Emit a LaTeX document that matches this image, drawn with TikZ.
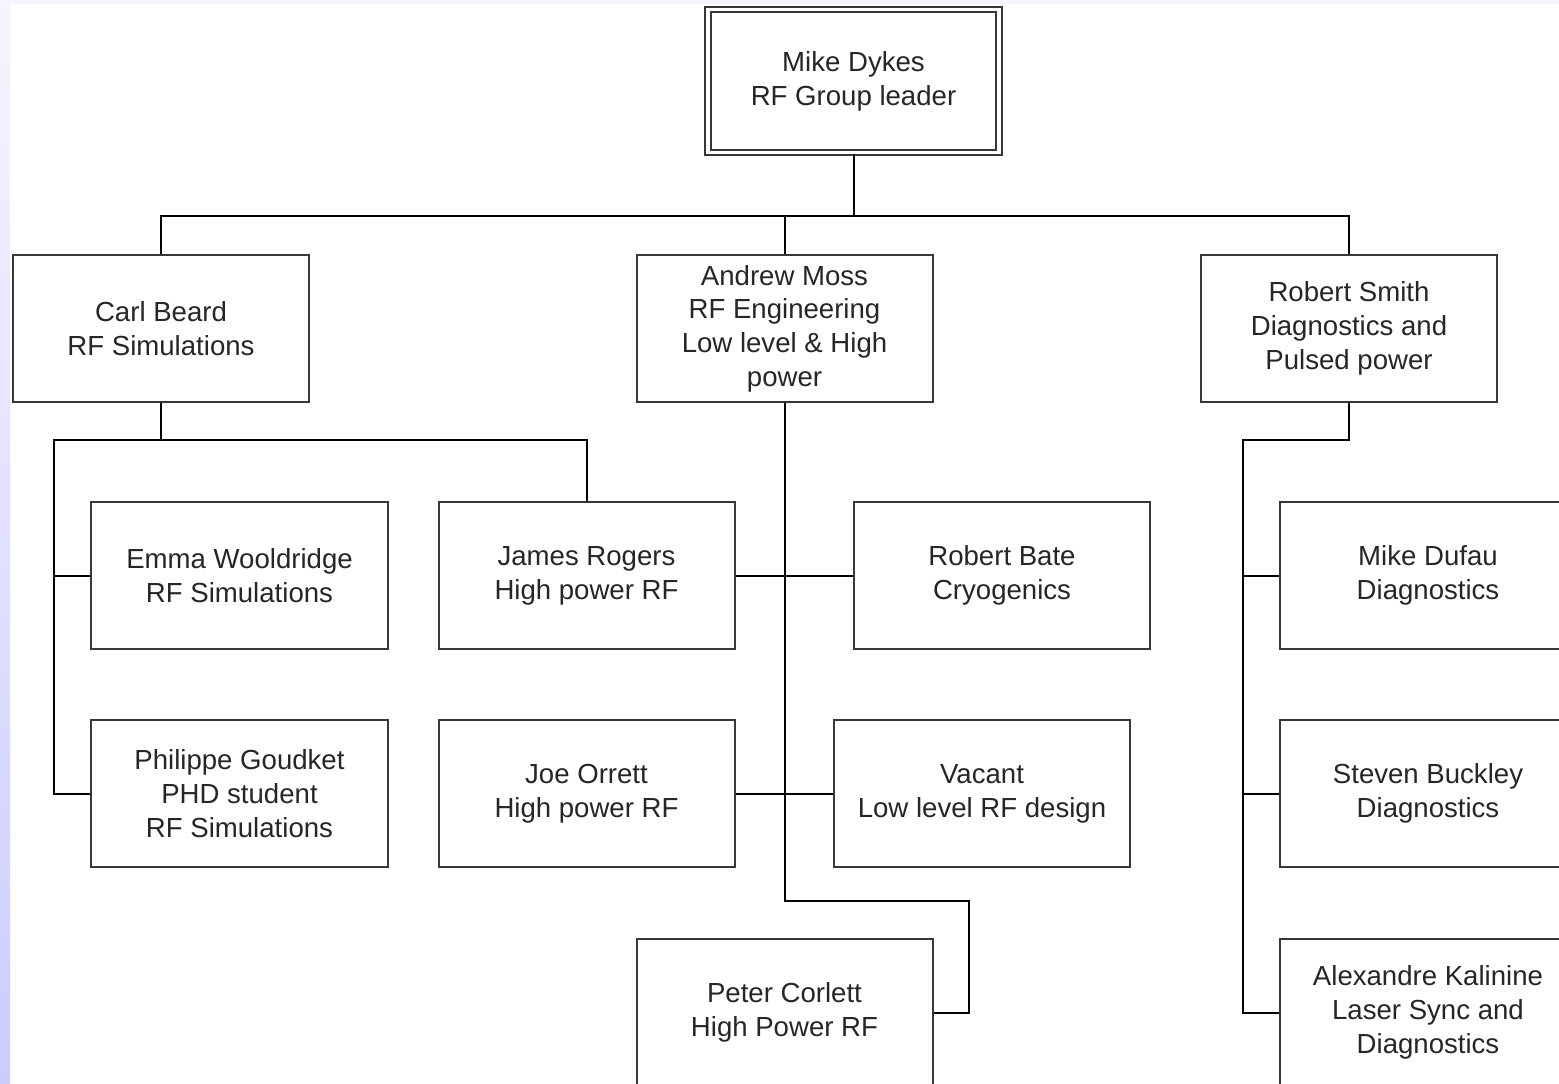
\documentclass[tikz,border=0pt]{standalone}
\usepackage{fontspec}
\setmainfont{Liberation Sans}
\definecolor{lavtop}{HTML}{F5F5FF}
\definecolor{lavbot}{HTML}{CCCCFF}
\definecolor{boxline}{HTML}{383838}
\definecolor{txtcol}{HTML}{262626}

\begin{document}
\begin{tikzpicture}[x=0.2mm,y=-0.2mm,
    person/.style={draw=boxline,line width=0.4mm,fill=white,
      minimum width=59.2mm,minimum height=29.4mm,align=center,
      text=txtcol,inner sep=1mm,
      font=\fontsize{15.7}{19.2}\selectfont},
    leader/.style={person,double,double distance=0.75mm,
      minimum width=58.2mm,minimum height=28.6mm},
    link/.style={line width=0.4mm,black}]
\clip (0,0) rectangle (1559,1084);
\fill[white] (0,0) rectangle (1559,1084);
\fill[lavtop] (0,0) rectangle (1559,4);
\shade[top color=lavtop,bottom color=lavbot] (0,0) rectangle (10,1084);
% \draw[help lines,step=100] (0,0) grid (1559,1084);
\node[leader] (dykes) at (853.5,81) {Mike Dykes\\RF Group leader};
\node[person] (beard) at (161,328.5) {Carl Beard\\RF Simulations};
\node[person] (moss) at (784.5,328.5) {Andrew Moss\\RF Engineering\\Low level \& High\\power};
\node[person] (smith) at (1349,328.5) {Robert Smith\\Diagnostics and\\Pulsed power};
\node[person] (wooldridge) at (239.5,575.5) {Emma Wooldridge\\RF Simulations};
\node[person] (goudket) at (239.5,793.5) {Philippe Goudket\\PHD student\\RF Simulations};
\node[person] (rogers) at (586.5,575.5) {James Rogers\\High power RF};
\node[person] (orrett) at (586.5,793.5) {Joe Orrett\\High power RF};
\node[person] (bate) at (1002,575.5) {Robert Bate\\Cryogenics};
\node[person] (vacant) at (982,793.5) {Vacant\\Low level RF design};
\node[person] (corlett) at (784.5,1012.5) {Peter Corlett\\High Power RF};
\node[person] (dufau) at (1428,575.5) {Mike Dufau\\Diagnostics};
\node[person] (buckley) at (1428,793.5) {Steven Buckley\\Diagnostics};
\node[person] (kalinine) at (1428,1012.5) {Alexandre Kalinine\\Laser Sync and\\Diagnostics};
\coordinate (cbus) at (54,440);
\coordinate (mbend) at (969,901);
\coordinate (sbus) at (1243,440);
\begin{scope}[link]
\draw (dykes.south) -- ++(0,61);
\draw (beard.north) -- ++(0,-38) -| (smith.north);
\draw (moss.north) -- ++(0,-38);
% Carl Beard
\draw (beard.south) -- ++(0,37);
\draw (rogers.north) |- (cbus) |- (goudket.west);
\draw (wooldridge.west) -- (wooldridge.west -| cbus);
% Andrew Moss
\draw (moss.south) -- (moss.south |- mbend) -- (mbend) |- (corlett.east);
\draw (rogers.east) -- (bate.west);
\draw (orrett.east) -- (vacant.west);
% Robert Smith
\draw (smith.south) |- (sbus) |- (kalinine.west);
\draw (dufau.west) -- (dufau.west -| sbus);
\draw (buckley.west) -- (buckley.west -| sbus);
\end{scope}
\end{tikzpicture}
\end{document}
